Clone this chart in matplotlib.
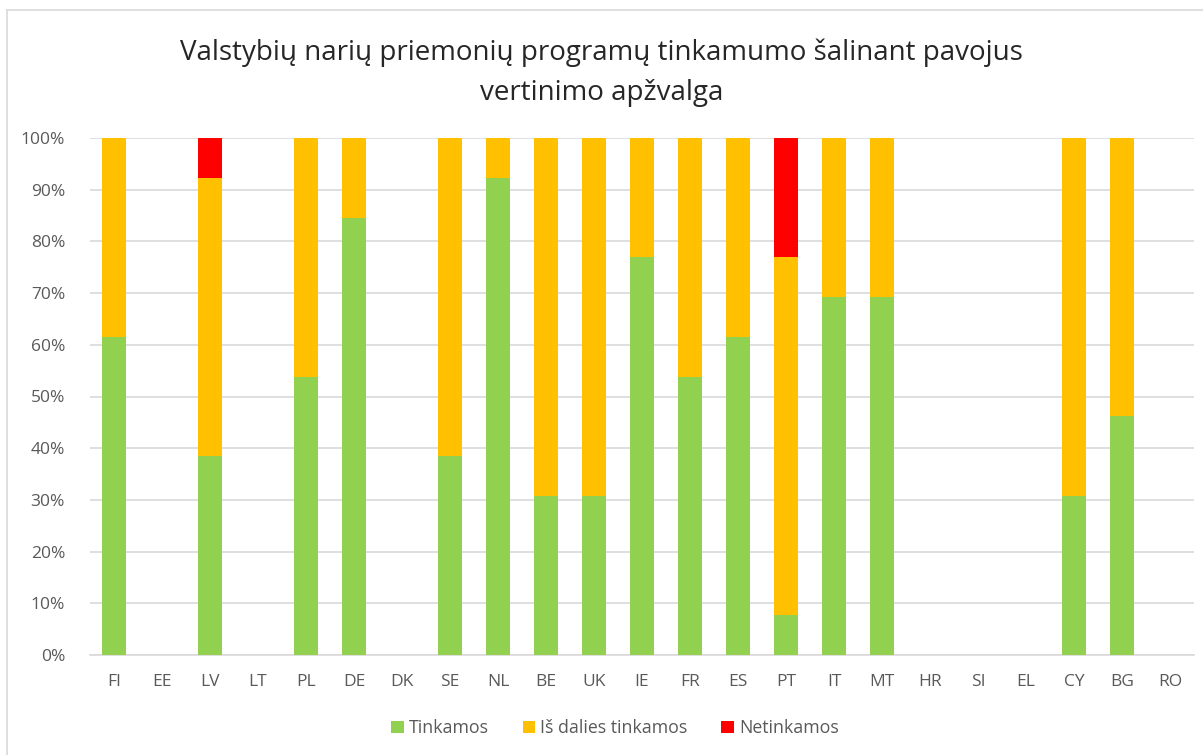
import matplotlib.pyplot as plt
from matplotlib.lines import Line2D
import numpy as np

plt.rcParams['font.family'] = ['Open Sans', 'DejaVu Sans']

countries = ['FI', 'EE', 'LV', 'LT', 'PL', 'DE', 'DK', 'SE', 'NL', 'BE', 'UK', 'IE',
             'FR', 'ES', 'PT', 'IT', 'MT', 'HR', 'SI', 'EL', 'CY', 'BG', 'RO']
tinkamos = [61.5, 0, 38.5, 0, 53.8, 84.6, 0, 38.5, 92.3, 30.8, 30.8, 76.9,
            53.8, 61.5, 7.7, 69.2, 69.2, 0, 0, 0, 30.8, 46.2, 0]
is_dalies = [38.5, 0, 53.8, 0, 46.2, 15.4, 0, 61.5, 7.7, 69.2, 69.2, 23.1,
             46.2, 38.5, 69.2, 30.8, 30.8, 0, 0, 0, 69.2, 53.8, 0]
netinkamos = [0, 0, 7.7, 0, 0, 0, 0, 0, 0, 0, 0, 0,
              0, 0, 23.1, 0, 0, 0, 0, 0, 0, 0, 0]
labels = ['Tinkamos', 'Iš dalies tinkamos', 'Netinkamos']
colors = ['#92D050', '#FFC000', '#FF0000']

fig = plt.figure(figsize=(12.03, 7.55), dpi=100)
ax = fig.add_axes([90 / 1203, 100 / 755, 1104 / 1203, 517 / 755])

x = np.arange(len(countries))
g = np.array(tinkamos)
y = np.array(is_dalies)
r = np.array(netinkamos)
ax.bar(x, g, 0.5, color=colors[0], label=labels[0], zorder=3)
ax.bar(x, y, 0.5, bottom=g, color=colors[1], label=labels[1], zorder=3)
ax.bar(x, r, 0.5, bottom=g + y, color=colors[2], label=labels[2], zorder=3)

ax.set_xlim(-0.5, len(countries) - 0.5)
ax.set_ylim(0, 100)
ax.set_yticks(range(0, 101, 10))
ax.set_yticklabels([f'{v}%' for v in range(0, 101, 10)])
ax.set_xticks(x)
ax.set_xticklabels(countries)
ax.yaxis.grid(True, color='#D9D9D9', linewidth=1.2, zorder=0)
for s in ['top', 'right', 'left']:
    ax.spines[s].set_visible(False)
ax.spines['bottom'].set_color('#D9D9D9')
ax.spines['bottom'].set_linewidth(1.2)
ax.tick_params(length=0, colors='#595959', labelsize=12.5)
ax.tick_params(axis='y', pad=18)
ax.tick_params(axis='x', pad=14)

fig.text(0.5, 1 - 73 / 755, 'Valstybių narių priemonių programų tinkamumo šalinant pavojus\nvertinimo apžvalga',
         ha='center', va='center', fontsize=20, color='#262626', linespacing=1.55)

ax.legend(loc='center', bbox_to_anchor=(525 / 1104, -73 / 517), ncol=3, frameon=False,
          fontsize=12.8, labelcolor='#595959', handlelength=0.7, handleheight=0.7,
          handletextpad=0.3, columnspacing=1.9)

fig.add_artist(Line2D([7 / 1203, 1], [1 - 10 / 755, 1 - 10 / 755], color='#D9D9D9', lw=1.2))
fig.add_artist(Line2D([7 / 1203, 7 / 1203], [0, 1 - 10 / 755], color='#D9D9D9', lw=1.2))

fig.savefig('out.png', dpi=100)
